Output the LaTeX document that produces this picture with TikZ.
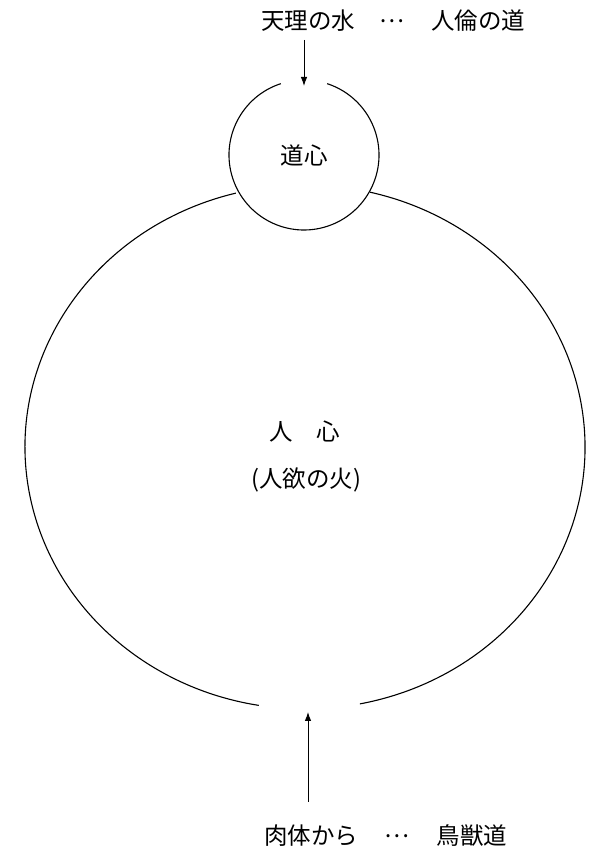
\documentclass[tikz,border=0pt]{standalone}
\usepackage{fontspec}
\setmainfont{Noto Sans CJK JP}
\usetikzlibrary{arrows.meta, positioning, calc}

\begin{document}
\begin{tikzpicture}[
        x=1pt, y=1pt,
        % Define a uniform style for all texts
        jtext/.style={
            inner sep=0pt,
            font=\fontsize{23.5}{27}\selectfont
        },
        ring/.style={
            line width=1.1pt
        },
        arrow/.style={
            -{Latex[length=9pt,width=6.5pt]},
            line width=0.9pt
        }
    ]
    \useasboundingbox (0,0) rectangle (593,851);

    % Draw the Nodes
    \node (tenri) [jtext] at (308,830) {天理の水};
    \node (tdots) [jtext] at (392,830) {…};
    \node (jinrin) [jtext] at (478,830) {人倫の道};

    \node (doshin) [jtext] at (304,696) {道心};

    \node (jinshin) [jtext] at (305,419) {人\hspace{1em}心};
    \node (jinyoku) [jtext] at (306,371) {(人欲の火)};

    \node (nikutai) [jtext] at (311,15) {肉体から};
    \node (bdots) [jtext] at (397,15) {…};
    \node (chojuu) [jtext] at (472,15) {鳥獣道};

    \coordinate (core) at (305,404);
    \coordinate (ttail) at (304,811);
    \coordinate (btail) at (308,49);

    % Draw the circles
    \draw [ring] ($(doshin)+(108:75)$) arc[start angle=108, end angle=432, radius=75];
    \draw [ring] ($(core)+({280*cos(281.3)},{262*sin(281.3)})$)
        arc[start angle=281.3, end angle=436.6, x radius=280, y radius=262];
    \draw [ring] ($(core)+({280*cos(104.3)},{262*sin(104.3)})$)
        arc[start angle=104.3, end angle=260.5, x radius=280, y radius=262];

    % Draw the connecting arrows
    \draw [arrow] (ttail) -- ($(doshin)+(0,69)$);
    \draw [arrow] (btail) -- ($(core)+(3,-265)$);

\end{tikzpicture}
\end{document}
